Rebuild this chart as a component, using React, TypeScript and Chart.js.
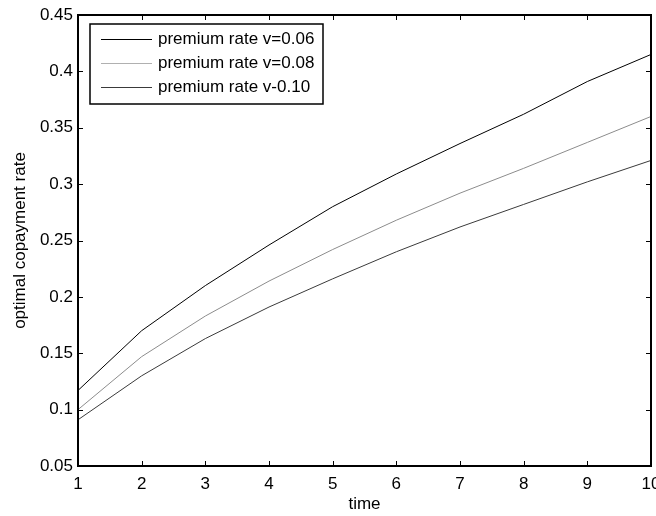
import React, { useEffect, useRef } from "react";
import { Chart, registerables } from "chart.js";

Chart.register(...registerables);

const TIME = [1, 2, 3, 4, 5, 6, 7, 8, 9, 10];
const RATE_V006 = [0.117, 0.170, 0.210, 0.246, 0.280, 0.309, 0.336, 0.362, 0.391, 0.415];
const RATE_V008 = [0.100, 0.147, 0.183, 0.214, 0.242, 0.268, 0.292, 0.314, 0.337, 0.360];
const RATE_V010 = [0.091, 0.130, 0.163, 0.191, 0.216, 0.240, 0.262, 0.282, 0.302, 0.321];
const SERIES_LABELS = ["premium rate v=0.06", "premium rate v=0.08", "premium rate v-0.10"];
const SERIES_COLORS = ["#000000", "#8c8c8c", "#3a3a3a"];
const LEGEND_COLORS = ["#000000", "#b0b0b0", "#3a3a3a"];

const FONT_FAMILY = '"Liberation Sans", Arial, Helvetica, sans-serif';
const FONT_SIZE = 17;

const framePlugin = {
  id: "matlabFrame",
  afterDraw(chart: any) {
    const { ctx, chartArea, scales } = chart;
    const { left, right, top, bottom } = chartArea;
    const x = scales.x;
    const y = scales.y;
    ctx.save();
    ctx.strokeStyle = "#000";
    ctx.lineWidth = 1;
    const tl = 5;
    ctx.beginPath();
    x.ticks.forEach((t: any) => {
      const px = Math.round(x.getPixelForValue(t.value)) + 0.5;
      ctx.moveTo(px, bottom);
      ctx.lineTo(px, bottom - tl);
      ctx.moveTo(px, top);
      ctx.lineTo(px, top + tl);
    });
    y.ticks.forEach((t: any) => {
      const py = Math.round(y.getPixelForValue(t.value)) + 0.5;
      ctx.moveTo(left, py);
      ctx.lineTo(left + tl, py);
      ctx.moveTo(right, py);
      ctx.lineTo(right - tl, py);
    });
    ctx.stroke();
    ctx.lineWidth = 2;
    ctx.strokeRect(left, top, right - left, bottom - top);

    // legend
    const lx = left + 12;
    const ly = top + 9;
    const lw = 233;
    const lh = 80;
    ctx.fillStyle = "#fff";
    ctx.fillRect(lx, ly, lw, lh);
    ctx.lineWidth = 1.5;
    ctx.strokeStyle = "#000";
    ctx.strokeRect(lx, ly, lw, lh);
    ctx.font = `${FONT_SIZE}px ${FONT_FAMILY}`;
    ctx.textBaseline = "middle";
    ctx.textAlign = "left";
    chart.data.datasets.forEach((ds: any, i: number) => {
      const rowY = ly + 15 + i * 24;
      ctx.beginPath();
      ctx.strokeStyle = LEGEND_COLORS[i];
      ctx.lineWidth = 1;
      ctx.moveTo(lx + 11, Math.round(rowY) + 0.5);
      ctx.lineTo(lx + 62, Math.round(rowY) + 0.5);
      ctx.stroke();
      ctx.fillStyle = "#000";
      ctx.fillText(ds.label, lx + 68, rowY);
    });
    ctx.restore();
  },
};

export default function App() {
  const ref = useRef<HTMLCanvasElement>(null);
  useEffect(() => {
    if (!ref.current) return;
    const mk = (vals: number[]) => TIME.map((t, i) => ({ x: t, y: vals[i] }));
    const chart = new Chart(ref.current, {
      type: "line",
      data: {
        datasets: [RATE_V006, RATE_V008, RATE_V010].map((vals, i) => ({
          label: SERIES_LABELS[i],
          data: mk(vals),
          borderColor: SERIES_COLORS[i],
          backgroundColor: SERIES_COLORS[i],
          borderWidth: 1,
          pointRadius: 0,
          tension: 0,
          fill: false,
        })),
      },
      options: {
        animation: false,
        responsive: false,
        devicePixelRatio: 1,
        layout: { autoPadding: false, padding: { left: 0, top: 15, right: 5, bottom: 0 } },
        plugins: { legend: { display: false }, tooltip: { enabled: false } },
        scales: {
          x: {
            type: "linear",
            min: 1,
            max: 10,
            afterFit: (s: any) => {
              s.height = 50;
              s.paddingLeft = 0;
              s.paddingRight = 0;
            },
            grid: { display: false, drawTicks: false },
            border: { display: false },
            ticks: {
              stepSize: 1,
              padding: 8,
              color: "#000",
              font: { family: FONT_FAMILY, size: FONT_SIZE },
              maxRotation: 0,
              autoSkip: false,
            },
            title: {
              display: true,
              text: "time",
              color: "#000",
              font: { family: FONT_FAMILY, size: FONT_SIZE },
              padding: { top: 0, bottom: 1 },
            },
          },
          y: {
            type: "linear",
            min: 0.05,
            max: 0.45,
            afterFit: (s: any) => {
              s.width = 78;
              s.paddingTop = 0;
              s.paddingBottom = 0;
            },
            grid: { display: false, drawTicks: false },
            border: { display: false },
            ticks: {
              stepSize: 0.05,
              padding: 5,
              color: "#000",
              font: { family: FONT_FAMILY, size: FONT_SIZE },
              autoSkip: false,
              callback: (v: any) => String(Number(Number(v).toFixed(2))),
            },
            title: {
              display: true,
              text: "optimal copayment rate",
              color: "#000",
              font: { family: FONT_FAMILY, size: FONT_SIZE },
              padding: { top: 10, bottom: 0 },
            },
          },
        },
      },
      plugins: [framePlugin],
    } as any);
    return () => chart.destroy();
  }, []);
  return (
    <div style={{ position: "fixed", left: 0, top: 0, width: 656, height: 516, background: "#fff" }}>
      <canvas ref={ref} width={656} height={516} style={{ display: "block", width: 656, height: 516 }} />
    </div>
  );
}
